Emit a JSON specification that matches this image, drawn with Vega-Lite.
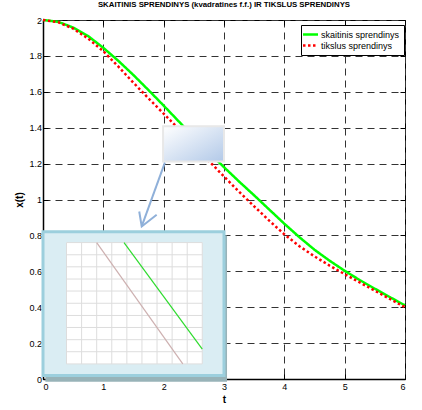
{
  "$schema": "https://vega.github.io/schema/vega-lite/v6.json",
  "width": 362,
  "height": 359,
  "autosize": {"type": "none"},
  "padding": {"left": 43, "top": 20, "right": 17, "bottom": 31},
  "background": "white",
  "title": {
    "text": "SKAITINIS SPRENDINYS (kvadratines f.f.) IR TIKSLUS SPRENDINYS",
    "font": "Liberation Sans Narrow, Liberation Sans, Arial, sans-serif",
    "fontSize": 7.8,
    "fontWeight": "bold",
    "color": "#000",
    "offset": 6
  },
  "config": {
    "view": {"stroke": "#000", "strokeWidth": 1},
    "axis": {
      "labelFont": "Liberation Sans Narrow, Liberation Sans, Arial, sans-serif",
      "labelFontSize": 9,
      "labelColor": "#000",
      "titleFont": "Liberation Sans, Arial, sans-serif",
      "titleFontSize": 10,
      "titleFontWeight": "bold",
      "titleColor": "#000",
      "domainColor": "#000",
      "domainWidth": 1.5,
      "tickColor": "#000",
      "tickSize": -5,
      "labelPadding": 8,
      "gridColor": "#333",
      "gridDash": [7, 5],
      "gridOpacity": 1,
      "gridWidth": 1
    }
  },
  "datasets": {
    "curves": [
      {"t": 0, "x": 2.0, "series": "skaitinis sprendinys"},
      {"t": 0.25, "x": 1.99, "series": "skaitinis sprendinys"},
      {"t": 0.5, "x": 1.958, "series": "skaitinis sprendinys"},
      {"t": 0.75, "x": 1.91, "series": "skaitinis sprendinys"},
      {"t": 1.0, "x": 1.845, "series": "skaitinis sprendinys"},
      {"t": 1.25, "x": 1.772, "series": "skaitinis sprendinys"},
      {"t": 1.5, "x": 1.693, "series": "skaitinis sprendinys"},
      {"t": 1.75, "x": 1.609, "series": "skaitinis sprendinys"},
      {"t": 2.0, "x": 1.523, "series": "skaitinis sprendinys"},
      {"t": 2.25, "x": 1.435, "series": "skaitinis sprendinys"},
      {"t": 2.5, "x": 1.348, "series": "skaitinis sprendinys"},
      {"t": 2.75, "x": 1.262, "series": "skaitinis sprendinys"},
      {"t": 3.0, "x": 1.18, "series": "skaitinis sprendinys"},
      {"t": 3.25, "x": 1.1, "series": "skaitinis sprendinys"},
      {"t": 3.5, "x": 1.023, "series": "skaitinis sprendinys"},
      {"t": 3.75, "x": 0.944, "series": "skaitinis sprendinys"},
      {"t": 4.0, "x": 0.865, "series": "skaitinis sprendinys"},
      {"t": 4.25, "x": 0.79, "series": "skaitinis sprendinys"},
      {"t": 4.5, "x": 0.72, "series": "skaitinis sprendinys"},
      {"t": 4.75, "x": 0.659, "series": "skaitinis sprendinys"},
      {"t": 5.0, "x": 0.603, "series": "skaitinis sprendinys"},
      {"t": 5.25, "x": 0.551, "series": "skaitinis sprendinys"},
      {"t": 5.5, "x": 0.503, "series": "skaitinis sprendinys"},
      {"t": 5.75, "x": 0.456, "series": "skaitinis sprendinys"},
      {"t": 6.0, "x": 0.41, "series": "skaitinis sprendinys"},
      {"t": 0, "x": 2.0, "series": "tikslus sprendinys"},
      {"t": 0.25, "x": 1.988, "series": "tikslus sprendinys"},
      {"t": 0.5, "x": 1.952, "series": "tikslus sprendinys"},
      {"t": 0.75, "x": 1.896, "series": "tikslus sprendinys"},
      {"t": 1.0, "x": 1.826, "series": "tikslus sprendinys"},
      {"t": 1.25, "x": 1.74, "series": "tikslus sprendinys"},
      {"t": 1.5, "x": 1.65, "series": "tikslus sprendinys"},
      {"t": 1.75, "x": 1.563, "series": "tikslus sprendinys"},
      {"t": 2.0, "x": 1.478, "series": "tikslus sprendinys"},
      {"t": 2.25, "x": 1.393, "series": "tikslus sprendinys"},
      {"t": 2.5, "x": 1.305, "series": "tikslus sprendinys"},
      {"t": 2.75, "x": 1.215, "series": "tikslus sprendinys"},
      {"t": 3.0, "x": 1.128, "series": "tikslus sprendinys"},
      {"t": 3.25, "x": 1.043, "series": "tikslus sprendinys"},
      {"t": 3.5, "x": 0.962, "series": "tikslus sprendinys"},
      {"t": 3.75, "x": 0.882, "series": "tikslus sprendinys"},
      {"t": 4.0, "x": 0.806, "series": "tikslus sprendinys"},
      {"t": 4.25, "x": 0.74, "series": "tikslus sprendinys"},
      {"t": 4.5, "x": 0.683, "series": "tikslus sprendinys"},
      {"t": 4.75, "x": 0.632, "series": "tikslus sprendinys"},
      {"t": 5.0, "x": 0.584, "series": "tikslus sprendinys"},
      {"t": 5.25, "x": 0.538, "series": "tikslus sprendinys"},
      {"t": 5.5, "x": 0.492, "series": "tikslus sprendinys"},
      {"t": 5.75, "x": 0.446, "series": "tikslus sprendinys"},
      {"t": 6.0, "x": 0.4, "series": "tikslus sprendinys"}
    ],
    "shadow": [{"t0": 0.04, "t1": 3.05, "v0": -0.015, "v1": 0.8}],
    "panel": [{"t0": 0.0, "t1": 3.0, "v0": 0.02, "v1": 0.82}],
    "screen": [{"t0": 0.39, "t1": 2.64, "v0": 0.084, "v1": 0.76}],
    "screenCols": [
      {"t": 0.39, "v0": 0.084, "v1": 0.76},
      {"t": 0.64, "v0": 0.084, "v1": 0.76},
      {"t": 0.89, "v0": 0.084, "v1": 0.76},
      {"t": 1.14, "v0": 0.084, "v1": 0.76},
      {"t": 1.39, "v0": 0.084, "v1": 0.76},
      {"t": 1.64, "v0": 0.084, "v1": 0.76},
      {"t": 1.89, "v0": 0.084, "v1": 0.76},
      {"t": 2.14, "v0": 0.084, "v1": 0.76},
      {"t": 2.39, "v0": 0.084, "v1": 0.76},
      {"t": 2.64, "v0": 0.084, "v1": 0.76}
    ],
    "screenRows": [
      {"v": 0.084, "t0": 0.39, "t1": 2.64},
      {"v": 0.152, "t0": 0.39, "t1": 2.64},
      {"v": 0.219, "t0": 0.39, "t1": 2.64},
      {"v": 0.287, "t0": 0.39, "t1": 2.64},
      {"v": 0.354, "t0": 0.39, "t1": 2.64},
      {"v": 0.422, "t0": 0.39, "t1": 2.64},
      {"v": 0.49, "t0": 0.39, "t1": 2.64},
      {"v": 0.557, "t0": 0.39, "t1": 2.64},
      {"v": 0.625, "t0": 0.39, "t1": 2.64},
      {"v": 0.692, "t0": 0.39, "t1": 2.64},
      {"v": 0.76, "t0": 0.39, "t1": 2.64}
    ],
    "screenLines": [
      {"part": "a", "t": 0.89, "v": 0.76},
      {"part": "a", "t": 2.317, "v": 0.084},
      {"part": "b", "t": 1.343, "v": 0.76},
      {"part": "b", "t": 2.64, "v": 0.166}
    ],
    "note": [{"t0": 1.99, "t1": 3.0, "v0": 1.212, "v1": 1.408}],
    "pointer": [
      {"k": 0, "t": 2.02, "v": 1.205},
      {"k": 1, "t": 1.636, "v": 0.85}
    ],
    "pointerHead": [
      {"k": 0, "t": 1.595, "v": 0.933},
      {"k": 1, "t": 1.636, "v": 0.85},
      {"k": 2, "t": 1.884, "v": 0.915}
    ]
  },
  "layer": [
    {
      "data": {"name": "curves"},
      "mark": {"type": "line", "strokeWidth": 2.5, "strokeCap": "butt"},
      "encoding": {
        "x": {
          "field": "t", "type": "quantitative",
          "scale": {"domain": [0, 6], "nice": false, "zero": false},
          "axis": {"orient": "bottom", "values": [0, 1, 2, 3, 4, 5, 6], "grid": true, "title": "t", "titlePadding": 3, "labelPadding": 8.5}
        },
        "y": {
          "field": "x", "type": "quantitative",
          "scale": {"domain": [0, 2], "nice": false, "zero": false},
          "axis": {"orient": "left", "values": [0, 0.2, 0.4, 0.6, 0.8, 1, 1.2, 1.4, 1.6, 1.8, 2], "format": "~g", "grid": true, "title": "x(t)", "titlePadding": 4, "labelPadding": 6.5}
        },
        "color": {
          "field": "series", "type": "nominal",
          "scale": {"domain": ["skaitinis sprendinys", "tikslus sprendinys"], "range": ["#00ff00", "#ff0000"]},
          "legend": {
            "title": null, "orient": "none", "legendX": 258, "legendY": 5,
            "strokeColor": "#000", "fillColor": "#fff", "padding": 4,
            "symbolType": "M-1.875,0H1.875", "symbolSize": 64, "symbolStrokeWidth": 2.5,
            "labelFont": "Liberation Sans Narrow, Liberation Sans, Arial, sans-serif",
            "labelFontSize": 9, "labelColor": "#000", "rowPadding": 0, "labelOffset": 5
          }
        },
        "strokeDash": {
          "field": "series", "type": "nominal",
          "scale": {"domain": ["skaitinis sprendinys", "tikslus sprendinys"], "range": [[1, 0], [2.5, 2.5]]},
          "legend": {
            "title": null, "orient": "none", "legendX": 258, "legendY": 5,
            "strokeColor": "#000", "fillColor": "#fff", "padding": 4,
            "symbolType": "M-1.875,0H1.875", "symbolSize": 64, "symbolStrokeWidth": 2.5,
            "labelFont": "Liberation Sans Narrow, Liberation Sans, Arial, sans-serif",
            "labelFontSize": 9, "labelColor": "#000", "rowPadding": 0, "labelOffset": 5
          }
        }
      }
    },
    {
      "data": {"name": "shadow"},
      "mark": {"type": "rect", "fill": "#98b3b8"},
      "encoding": {
        "x": {
          "field": "t0", "type": "quantitative", "scale": {"domain": [0, 6], "nice": false, "zero": false},
          "axis": {"orient": "top", "values": [0, 1, 2, 3, 4, 5, 6], "labels": false, "title": null, "grid": false, "domain": false}
        },
        "x2": {"field": "t1"},
        "y": {
          "field": "v0", "type": "quantitative", "scale": {"domain": [0, 2], "nice": false, "zero": false},
          "axis": {"orient": "right", "values": [0, 0.2, 0.4, 0.6, 0.8, 1, 1.2, 1.4, 1.6, 1.8, 2], "labels": false, "title": null, "grid": false, "domain": false}
        },
        "y2": {"field": "v1"}
      }
    },
    {
      "data": {"name": "panel"},
      "mark": {"type": "rect", "fill": "#daedf3", "stroke": "#9ccfdd", "strokeWidth": 3},
      "encoding": {
        "x": {"field": "t0", "type": "quantitative", "scale": {"domain": [0, 6], "nice": false, "zero": false}, "axis": null},
        "x2": {"field": "t1"},
        "y": {"field": "v0", "type": "quantitative", "scale": {"domain": [0, 2], "nice": false, "zero": false}, "axis": null},
        "y2": {"field": "v1"}
      }
    },
    {
      "data": {"name": "screen"},
      "mark": {"type": "rect", "fill": "#ffffff"},
      "encoding": {
        "x": {"field": "t0", "type": "quantitative", "scale": {"domain": [0, 6], "nice": false, "zero": false}, "axis": null},
        "x2": {"field": "t1"},
        "y": {"field": "v0", "type": "quantitative", "scale": {"domain": [0, 2], "nice": false, "zero": false}, "axis": null},
        "y2": {"field": "v1"}
      }
    },
    {
      "data": {"name": "screenCols"},
      "mark": {"type": "rule", "stroke": "#dddddd", "strokeWidth": 1},
      "encoding": {
        "x": {"field": "t", "type": "quantitative", "scale": {"domain": [0, 6], "nice": false, "zero": false}, "axis": null},
        "y": {"field": "v0", "type": "quantitative", "scale": {"domain": [0, 2], "nice": false, "zero": false}, "axis": null},
        "y2": {"field": "v1"}
      }
    },
    {
      "data": {"name": "screenRows"},
      "mark": {"type": "rule", "stroke": "#dddddd", "strokeWidth": 1},
      "encoding": {
        "x": {"field": "t0", "type": "quantitative", "scale": {"domain": [0, 6], "nice": false, "zero": false}, "axis": null},
        "x2": {"field": "t1"},
        "y": {"field": "v", "type": "quantitative", "scale": {"domain": [0, 2], "nice": false, "zero": false}, "axis": null}
      }
    },
    {
      "data": {"name": "screenLines"},
      "transform": [{"filter": "datum.part === 'a'"}],
      "mark": {"type": "line", "stroke": "#cdb0b0", "strokeWidth": 1.2},
      "encoding": {
        "x": {"field": "t", "type": "quantitative", "scale": {"domain": [0, 6], "nice": false, "zero": false}, "axis": null},
        "y": {"field": "v", "type": "quantitative", "scale": {"domain": [0, 2], "nice": false, "zero": false}, "axis": null}
      }
    },
    {
      "data": {"name": "screenLines"},
      "transform": [{"filter": "datum.part === 'b'"}],
      "mark": {"type": "line", "stroke": "#2edb2e", "strokeWidth": 1.2},
      "encoding": {
        "x": {"field": "t", "type": "quantitative", "scale": {"domain": [0, 6], "nice": false, "zero": false}, "axis": null},
        "y": {"field": "v", "type": "quantitative", "scale": {"domain": [0, 2], "nice": false, "zero": false}, "axis": null}
      }
    },
    {
      "data": {"name": "note"},
      "mark": {
        "type": "rect",
        "stroke": "#e8e8e8",
        "strokeWidth": 2,
        "fill": {
          "gradient": "linear", "x1": 0, "y1": 0, "x2": 1, "y2": 1,
          "stops": [{"offset": 0, "color": "#ffffff"}, {"offset": 1, "color": "#b2c9e8"}]
        }
      },
      "encoding": {
        "x": {"field": "t0", "type": "quantitative", "scale": {"domain": [0, 6], "nice": false, "zero": false}, "axis": null},
        "x2": {"field": "t1"},
        "y": {"field": "v0", "type": "quantitative", "scale": {"domain": [0, 2], "nice": false, "zero": false}, "axis": null},
        "y2": {"field": "v1"}
      }
    },
    {
      "data": {"name": "pointer"},
      "mark": {"type": "line", "stroke": "#8fb0d9", "strokeWidth": 2},
      "encoding": {
        "x": {"field": "t", "type": "quantitative", "scale": {"domain": [0, 6], "nice": false, "zero": false}, "axis": null},
        "y": {"field": "v", "type": "quantitative", "scale": {"domain": [0, 2], "nice": false, "zero": false}, "axis": null},
        "order": {"field": "k"}
      }
    },
    {
      "data": {"name": "pointerHead"},
      "mark": {"type": "line", "stroke": "#8fb0d9", "strokeWidth": 2},
      "encoding": {
        "x": {"field": "t", "type": "quantitative", "scale": {"domain": [0, 6], "nice": false, "zero": false}, "axis": null},
        "y": {"field": "v", "type": "quantitative", "scale": {"domain": [0, 2], "nice": false, "zero": false}, "axis": null},
        "order": {"field": "k"}
      }
    }
  ],
  "resolve": {"axis": {"x": "independent", "y": "independent"}}
}
